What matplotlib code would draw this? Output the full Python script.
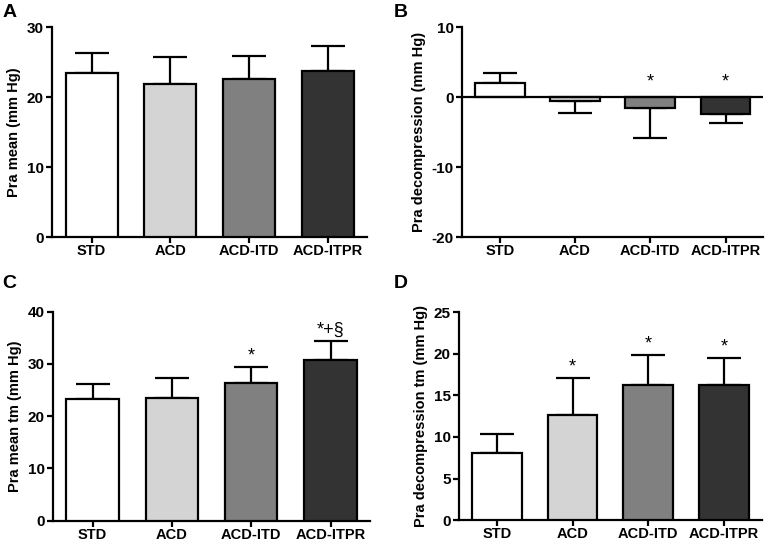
import numpy as np
import matplotlib
matplotlib.use('Agg')
import matplotlib.pyplot as plt

plt.rcParams['font.family'] = ['Liberation Sans', 'DejaVu Sans']
plt.rcParams['font.weight'] = 'bold'
plt.rcParams['axes.unicode_minus'] = False

groups = ['STD', 'ACD', 'ACD-ITD', 'ACD-ITPR']
colors = ['#ffffff', '#d4d4d4', '#808080', '#333333']

# panel data: mean, error
a_mean = [23.4, 21.9, 22.6, 23.8]
a_err = [2.9, 3.8, 3.3, 3.5]
b_mean = [2.0, -0.6, -1.5, -2.4]
b_err = [1.4, 1.7, 4.4, 1.3]
c_mean = [23.2, 23.4, 26.3, 30.7]
c_err = [2.9, 3.9, 3.1, 3.6]
d_mean = [8.1, 12.6, 16.3, 16.3]
d_err = [2.2, 4.5, 3.6, 3.2]

b_marks = ['', '', '*', '*']
c_marks = ['', '', '*', '*+§']
d_marks = ['', '*', '*', '*']

fig = plt.figure(figsize=(7.78, 5.44), dpi=100)
pos = {
    'A': [0.067, 0.564, 0.405, 0.386],
    'B': [0.594, 0.564, 0.387, 0.386],
    'C': [0.068, 0.043, 0.408, 0.384],
    'D': [0.590, 0.044, 0.389, 0.382],
}
letter_pos = {'A': (0.003, 0.993), 'B': (0.506, 0.993),
              'C': (0.003, 0.495), 'D': (0.506, 0.495)}


def panel(key, mean, err, ylim, yticks, ylabel, marks=None, mark_off=0.0):
    ax = fig.add_axes(pos[key])
    x = np.arange(len(groups))
    ax.bar(x, mean, width=0.66, color=colors, edgecolor='black', linewidth=1.6, zorder=3)
    for i in range(len(groups)):
        if mean[i] >= 0:
            yerr = [[0], [err[i]]]
        else:
            yerr = [[err[i]], [0]]
        ax.errorbar(x[i], mean[i], yerr=yerr, fmt='none', ecolor='black',
                    elinewidth=1.6, capsize=12, capthick=1.6, zorder=2)
    if marks:
        for i, m in enumerate(marks):
            if m:
                top = max(mean[i] + err[i], 0) if mean[i] >= 0 else 0
                ax.text(x[i], top + mark_off, m, ha='center', va='bottom',
                        fontsize=13, fontweight='normal')
    ax.set_xlim(-0.5, 3.5)
    ax.set_ylim(*ylim)
    ax.set_yticks(yticks)
    ax.set_xticks(x)
    ax.set_xticklabels(groups, fontsize=10.5, fontweight='bold')
    for lab in ax.get_yticklabels():
        lab.set_fontweight('bold')
        lab.set_fontsize(11)
    ax.set_ylabel(ylabel, fontsize=10.5, fontweight='bold', labelpad=4)
    ax.spines['top'].set_visible(False)
    ax.spines['right'].set_visible(False)
    ax.spines['left'].set_linewidth(1.6)
    ax.spines['bottom'].set_linewidth(1.6)
    ax.tick_params(width=1.6, length=4, direction='out', pad=2)
    ax.tick_params(axis='x', pad=1)
    lx, ly = letter_pos[key]
    fig.text(lx, ly, key, fontsize=14, fontweight='bold', ha='left', va='top')
    return ax


panel('A', a_mean, a_err, (0, 30), [0, 10, 20, 30], 'Pra mean (mm Hg)')
axb = panel('B', b_mean, b_err, (-20, 10), [-20, -10, 0, 10],
            'Pra decompression (mm Hg)', b_marks, mark_off=1.0)
axb.axhline(0, color='black', linewidth=1.6, zorder=4)
panel('C', c_mean, c_err, (0, 40), [0, 10, 20, 30, 40], 'Pra mean tm (mm Hg)',
      c_marks, mark_off=0.5)
panel('D', d_mean, d_err, (0, 25), [0, 5, 10, 15, 20, 25],
      'Pra decompression tm (mm Hg)', d_marks, mark_off=0.3)

fig.savefig('out.png', dpi=100)
